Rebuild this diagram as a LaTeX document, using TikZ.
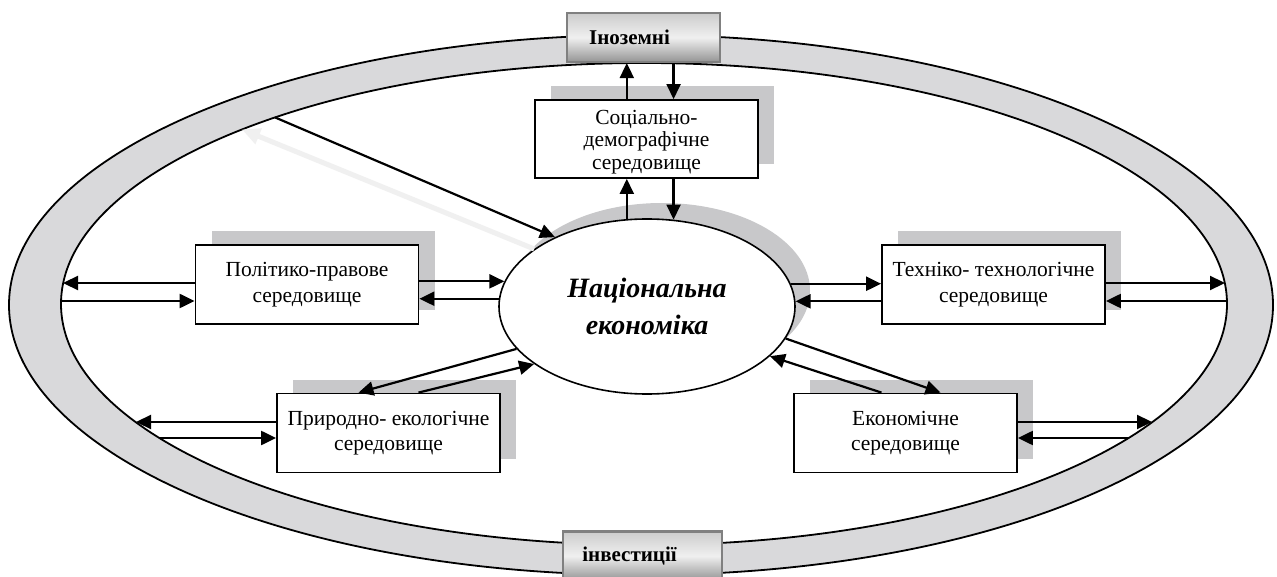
\documentclass[tikz,border=0pt]{standalone}
\usepackage{fontspec}
\setmainfont{Liberation Serif}
\usetikzlibrary{shapes.geometric,arrows.meta,shadows,calc}
\definecolor{bandgray}{RGB}{217,217,219}
\definecolor{shadowgray}{RGB}{200,200,202}
\definecolor{lightarrow}{RGB}{240,240,240}
\definecolor{boxedge}{RGB}{128,128,128}
\begin{document}
\begin{tikzpicture}[x=1pt,y=-1pt,
  envbox/.style={draw=black, line width=1.8pt, fill=white, minimum width=223pt,
    minimum height=79pt, inner sep=0pt, align=center,
    font=\fontsize{21.5}{25.5}\selectfont,
    drop shadow={shadow xshift=16pt, shadow yshift=14pt, fill=shadowgray, opacity=1}},
  capbox/.style={draw=boxedge, line width=2.2pt, top color=black!20, bottom color=black!42,
    middle color=black!6, minimum width=153pt, minimum height=49pt, inner sep=0pt,
    font=\fontsize{21}{24}\selectfont\bfseries},
  arr/.style={line width=2.2pt, -{Triangle[length=15pt,width=14pt]}},
  lightarr/.style={line width=5pt, draw=lightarrow, -{Triangle[length=18pt,width=16pt]}},
  bandline/.style={line width=1.8pt, draw=black}
]
\useasboundingbox (0,0) rectangle (1277,577);
% outer band
\fill[bandgray, bandline] (641,305) ellipse [x radius=632, y radius=270];
\fill[white, bandline] (644,304) ellipse [x radius=583, y radius=241];
% points on the inner edge of the band
\coordinate (bL1) at (63,283);
\coordinate (bL2) at (61,301);
\coordinate (bR1) at (1225,283);
\coordinate (bR2) at (1227,301);
\coordinate (bL3) at (136,422);
\coordinate (bL4) at (159,438);
\coordinate (bR3) at (1152,422);
\coordinate (bR4) at (1129,438);
\coordinate (bUL) at (275,117.4);
\coordinate (bUL2) at (242,129.5);
% caption boxes on the band
\node[capbox] (inoz) at (643.5,37.5) {\hspace*{-28pt}Іноземні};
\node[capbox, minimum width=159pt] (inv) at (642.5,556) {\hspace*{-26pt}інвестиції};
% central ellipse
\node[ellipse, draw=black, line width=1.6pt, fill=white, minimum width=296pt, minimum height=175pt,
  inner sep=0pt, align=center, font=\fontsize{28}{37}\selectfont\bfseries\itshape,
  drop shadow={shadow xshift=15pt, shadow yshift=16pt, fill=shadowgray, opacity=1}]
  (ne) at (647,306.5) {Національна\\економіка};
% environment boxes
\node[envbox, minimum height=78pt, font=\fontsize{21.5}{22.5}\selectfont] (sd) at (646.5,139) {\rule{0pt}{20pt}Соціально-\\демографічне\\середовище};
\node[envbox] (pp) at (307,284.5) {Політико-правове\\середовище};
\node[envbox] (tt) at (993.5,284.5) {Техніко- технологічне\\середовище};
\node[envbox] (pe) at (388.5,433) {Природно- екологічне\\середовище};
\node[envbox] (ee) at (905.5,433) {Економічне\\середовище};
% diagonal arrows upper left
\draw[lightarr] (ne.153.2) -- (bUL2);
\draw[arr] (bUL) -- (ne.143.3);
% social
\draw[arr] (ne.103) -- (ne.103 |- sd.south);
\draw[arr] (ne.73.8 |- sd.south) -- (ne.73.8);
\draw[arr] (ne.103 |- sd.north) -- (ne.103 |- inoz.south);
\draw[arr] (ne.73.8 |- inoz.south) -- (ne.73.8 |- sd.north);
% political
\draw[arr] (pp.west |- bL1) -- (bL1);
\draw[arr] (bL2) -- (pp.west |- bL2);
\draw[arr] (pp.east |- ne.170.6) -- (ne.170.6);
\draw[arr] (ne.177.9) -- (pp.east |- ne.177.9);
% technical
\draw[arr] (ne.9.4) -- (tt.west |- ne.9.4);
\draw[arr] (tt.west |- ne.2.1) -- (ne.2.1);
\draw[arr] (tt.east |- bR1) -- (bR1);
\draw[arr] (bR2) -- (tt.east |- bR2);
% natural
\draw[arr] (pe.west |- bL3) -- (bL3);
\draw[arr] (bL4) -- (pe.west |- bL4);
\draw[arr] (ne.198.6) -- ([xshift=-30pt]pe.north);
\draw[arr] ([xshift=30pt]pe.north) -- (ne.207.2);
% economic
\draw[arr] (ee.east |- bR3) -- (bR3);
\draw[arr] (bR4) -- (ee.east |- bR4);
\draw[arr] (ne.347) -- ([xshift=35pt]ee.north);
\draw[arr] ([xshift=-24pt]ee.north) -- (ne.338.5);
\end{tikzpicture}
\end{document}
